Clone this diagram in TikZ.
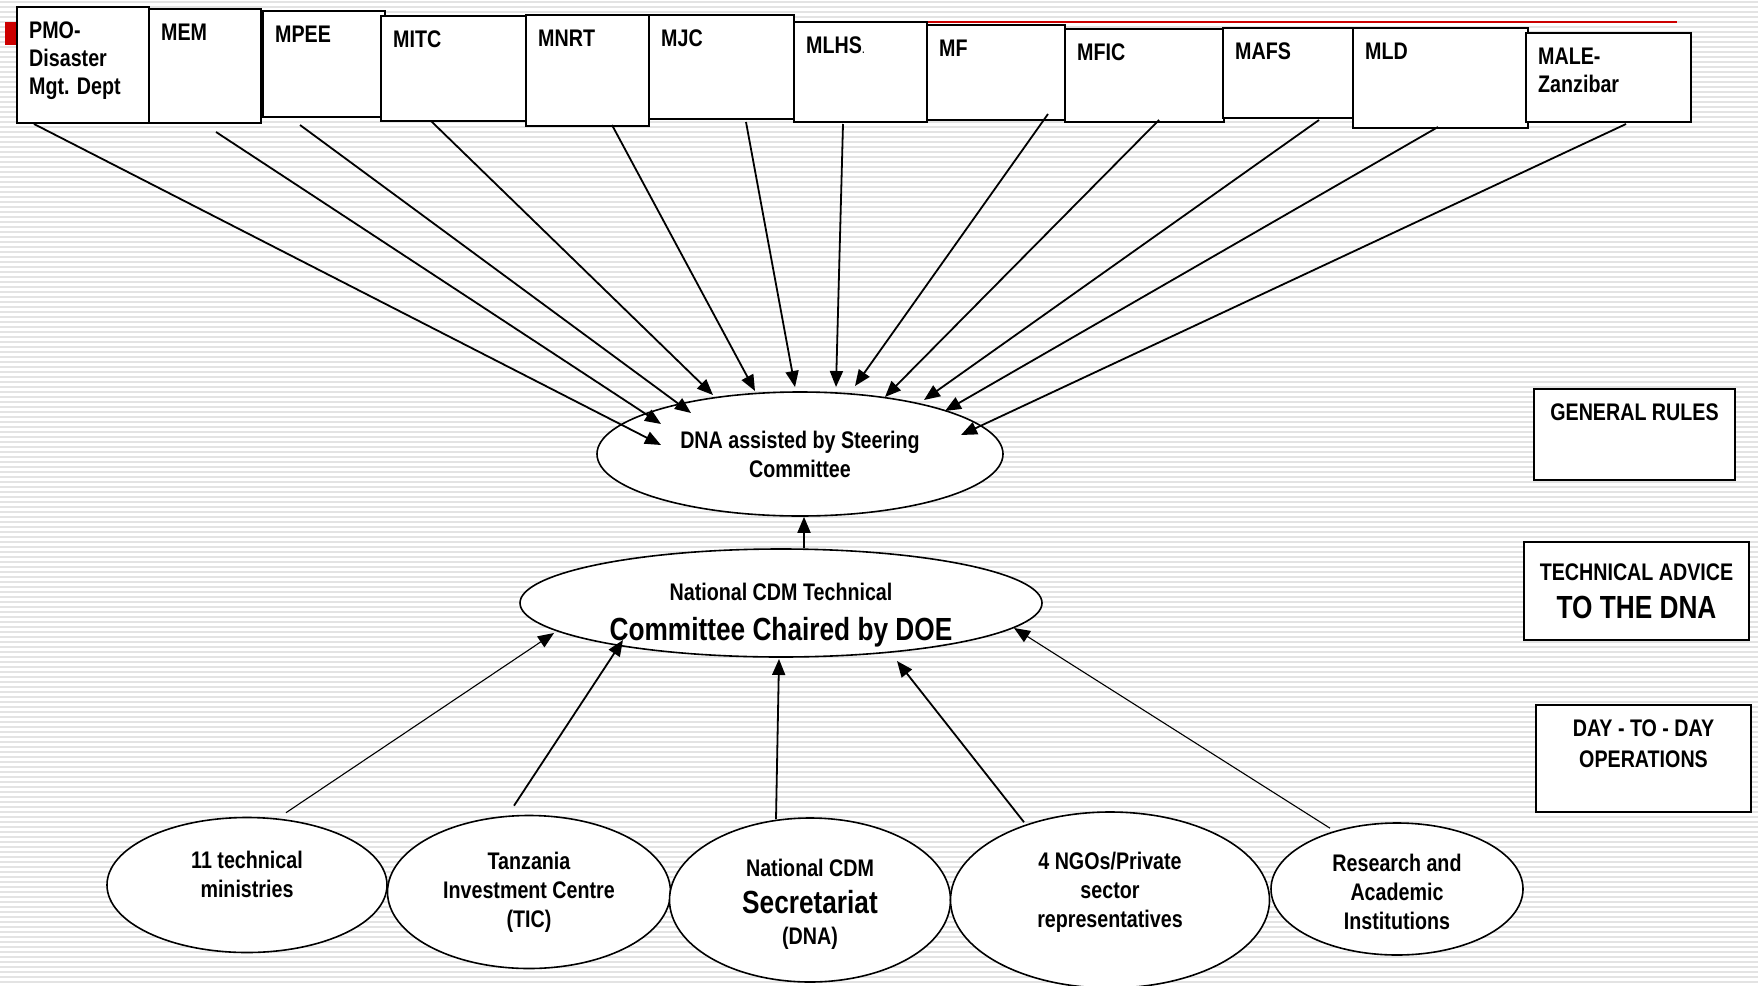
\documentclass[tikz,border=0pt]{standalone}
\usepackage{fontspec}
\setmainfont{Liberation Sans}[FakeStretch=0.82]
\usetikzlibrary{shapes.geometric,arrows.meta}

\tikzset{
  stripe/.style={line width=2pt,color=black!11},
  ministry/.style={draw,line width=2pt,fill=white,inner sep=0pt},
  mlbl/.style={anchor=north west,align=left,inner xsep=13pt,inner ysep=16pt,
    font=\fontsize{24}{28}\selectfont\bfseries},
  body/.style={draw,ellipse,line width=1.6pt,fill=white,inner sep=0pt,align=center,
    font=\fontsize{24}{29}\selectfont\bfseries},
  bodytxt/.style={anchor=center,align=center,inner sep=0pt,
    font=\fontsize{24}{29}\selectfont\bfseries},
  rulebox/.style={draw,line width=2pt,fill=white,inner sep=0pt,align=center,
    font=\fontsize{24}{30}\selectfont\bfseries},
  rlbl/.style={anchor=north,align=center,inner xsep=13pt,inner ysep=16pt,
    font=\fontsize{24}{31}\selectfont\bfseries},
  toparr/.style={line width=1.8pt,-{Triangle[length=16pt,width=13pt]}},
  thinarr/.style={line width=1.1pt,-{Triangle[length=16pt,width=13pt]}}
}
\newcommand{\bigtxt}{\fontsize{32}{36}\selectfont}

\begin{document}
\begin{tikzpicture}[x=1pt,y=-1pt]
\useasboundingbox (0,0) rectangle (1758,985);
\fill[white] (0,0) rectangle (1758,985);
\foreach \y in {2,7,...,985}
  \draw[stripe] (0,\y) -- (1758,\y);

% template marks
\fill[red!80!black] (5,22) rectangle (264,45);
\draw[red!80!black,line width=2.5pt] (927,22) -- (1677,22);

% ministries
\node[ministry,minimum width=132pt,minimum height=116pt,label={[mlbl]north west:{PMO-\\Disaster\\Mgt. Dept}}] (pmo) at (83,65) {};
\node[ministry,minimum width=112pt,minimum height=114pt,label={[mlbl]north west:MEM}] (mem) at (205,66) {};
\node[ministry,minimum width=122pt,minimum height=106pt,label={[mlbl]north west:MPEE}] (mpee) at (324,64) {};
\node[ministry,minimum width=146pt,minimum height=105pt,label={[mlbl]north west:MITC}] (mitc) at (454,68.5) {};
\node[ministry,minimum width=123pt,minimum height=111pt,label={[mlbl]north west:MNRT}] (mnrt) at (587.5,70.5) {};
\node[ministry,minimum width=145pt,minimum height=104pt,label={[mlbl]north west:MJC}] (mjc) at (721.5,67) {};
\node[ministry,minimum width=133pt,minimum height=100pt,label={[mlbl]north west:MLHS{\mdseries\fontsize{14}{14}\selectfont.}}] (mlhs) at (860.5,72) {};
\node[ministry,minimum width=138pt,minimum height=95pt,label={[mlbl]north west:MF}] (mf) at (996,72.5) {};
\node[ministry,minimum width=159pt,minimum height=93pt,label={[mlbl]north west:MFIC}] (mfic) at (1144.5,75.5) {};
\node[ministry,minimum width=130pt,minimum height=90pt,label={[mlbl]north west:MAFS}] (mafs) at (1288,73) {};
\node[ministry,minimum width=175pt,minimum height=100pt,label={[mlbl]north west:MLD}] (mld) at (1440.5,78) {};
\node[ministry,minimum width=165pt,minimum height=89pt,label={[mlbl]north west:{MALE-\\Zanzibar}}] (male) at (1608.5,77.5) {};

% DNA and technical committee
\node[body,minimum width=406pt,minimum height=124pt] (dna) at (800,454) {DNA assisted by Steering\\Committee};
\node[body,minimum width=522pt,minimum height=108pt,
  label={[bodytxt,yshift=-12pt]center:{National CDM Technical\\[11pt]{\bigtxt Committee Chaired by DOE}}}] (tech) at (781,603) {};

% members
\node[body,minimum width=280pt,minimum height=135pt,
  label={[bodytxt,yshift=11pt]center:{11 technical\\ministries}}] (mins) at (247,885) {};
\node[body,minimum width=283pt,minimum height=153pt] (tic) at (529,892) {Tanzania\\Investment Centre\\(TIC)};
\node[body,minimum width=281pt,minimum height=164pt,
  label={[bodytxt,yshift=-4pt]center:{National CDM\\[8pt]{\bigtxt Secretariat}\\[2pt](DNA)}}] (sec) at (810,900) {};
\node[body,minimum width=319pt,minimum height=176pt,
  label={[bodytxt,yshift=8pt]center:{4 NGOs/Private\\sector\\representatives}}] (ngo) at (1110,900) {};
\node[body,minimum width=252pt,minimum height=132pt,
  label={[bodytxt,yshift=-3pt]center:{Research and\\Academic\\Institutions}}] (acad) at (1397,889) {};

% legend boxes
\node[rulebox,minimum width=201pt,minimum height=91pt,label={[rlbl]north:GENERAL RULES}] (rules) at (1634.5,434.5) {};
\node[rulebox,minimum width=225pt,minimum height=98pt] (advice) at (1636.5,591) {TECHNICAL ADVICE\\[8pt]{\bigtxt TO THE DNA}};
\node[rulebox,minimum width=215pt,minimum height=107pt,label={[rlbl]north:{DAY - TO - DAY\\OPERATIONS}}] (daily) at (1643.5,758.5) {};

% ministries -> DNA
\draw[toparr] ([shift={(-49,0)}]pmo.south) -- ([shift={(-139,-9)}]dna.center);
\draw[toparr] ([shift={(11,8)}]mem.south) -- ([shift={(-139,-30)}]dna.center);
\draw[toparr] ([shift={(-24,7)}]mpee.south) -- ([shift={(-109,-41)}]dna.center);
\draw[toparr] ([shift={(-23,-1)}]mitc.south) -- ([shift={(-87,-59)}]dna.center);
\draw[toparr] ([shift={(24.5,-2)}]mnrt.south) -- ([shift={(-45,-63)}]dna.center);
\draw[toparr] ([shift={(24.5,2)}]mjc.south) -- ([shift={(-5,-67)}]dna.center);
\draw[toparr] ([shift={(-17.5,1)}]mlhs.south) -- ([shift={(36,-67)}]dna.center);
\draw[toparr] ([shift={(52,-7)}]mf.south) -- ([shift={(55,-68)}]dna.center);
\draw[toparr] ([shift={(14.5,-3)}]mfic.south) -- ([shift={(85,-57)}]dna.center);
\draw[toparr] ([shift={(31,1)}]mafs.south) -- ([shift={(124,-54)}]dna.center);
\draw[toparr] ([shift={(-2.5,-2)}]mld.south) -- ([shift={(145,-43)}]dna.center);
\draw[toparr] ([shift={(17.5,1)}]male.south) -- ([shift={(161,-19)}]dna.center);

% committee -> DNA
\draw[toparr] ([shift={(23,0)}]tech.north) -- ([shift={(4,0)}]dna.south);

% members -> committee
\draw[thinarr] ([shift={(39,-4)}]mins.north) -- ([shift={(-227,30)}]tech.center);
\draw[toparr] ([shift={(-15,-9)}]tic.north) -- ([shift={(-158,37)}]tech.center);
\draw[toparr] ([shift={(-34,2)}]sec.north) -- ([shift={(-2,56)}]tech.center);
\draw[toparr] ([shift={(-86,11)}]ngo.north) -- ([shift={(116,58)}]tech.center);
\draw[thinarr] ([shift={(-67,6)}]acad.north) -- ([shift={(233,25)}]tech.center);
\end{tikzpicture}
\end{document}
